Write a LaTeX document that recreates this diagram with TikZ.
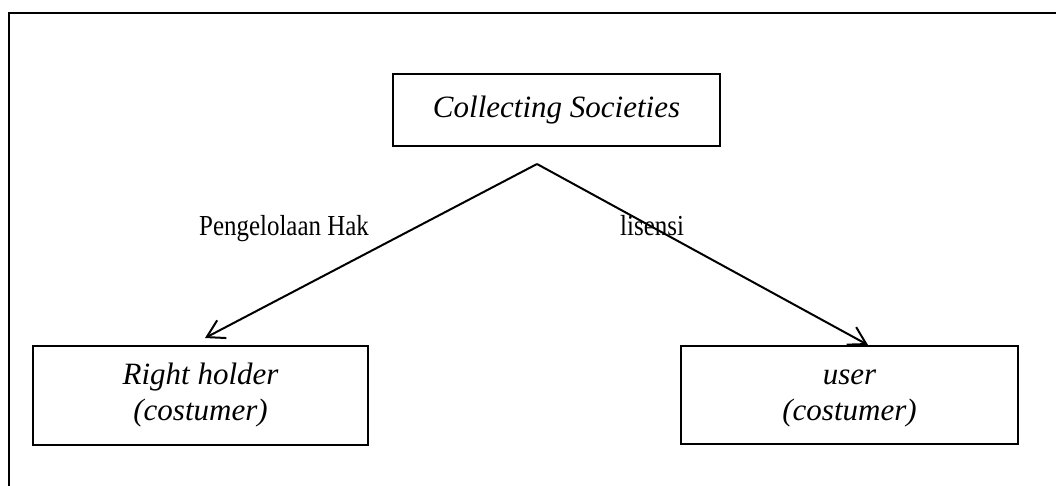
\documentclass[tikz,border=0pt]{standalone}
\usepackage{fontspec}
\setmainfont{Liberation Serif}
\newfontfamily\labelfont[FakeStretch=0.86]{Liberation Serif}
\usetikzlibrary{arrows.meta}
\tikzset{
  boxnode/.style={draw, line width=1.5pt, rectangle, inner sep=0pt, align=center,
    font=\fontsize{31}{36}\selectfont\itshape},
  lbl/.style={anchor=base west, inner sep=0pt, font=\labelfont\fontsize{29}{34}\selectfont},
  conn/.style={line width=2pt, -{Straight Barb[length=17pt,width=20pt]}},
  frame/.style={line width=2.5pt}
}
\begin{document}
\begin{tikzpicture}[x=1pt,y=-1pt]
\useasboundingbox (0,0) rectangle (1056,486);
\draw[frame] (9,490) -- (9,13) -- (1060,13);
\node[boxnode, minimum width=327pt, minimum height=72pt] (cs) at (556.5,110) {\strut Collecting Societies};
\node[boxnode, minimum width=335pt, minimum height=99pt] (rh) at (200.5,395.5) {\strut Right holder\\\strut (costumer)};
\node[boxnode, minimum width=337pt, minimum height=98pt] (us) at (849.5,395) {\strut user\\\strut (costumer)};
\coordinate (apex) at (537,164);
\coordinate (tipL) at (205,338);
\coordinate (tipR) at (868,345);
\draw[conn] (apex) -- (tipL);
\draw[conn] (apex) -- (tipR);
\node[lbl] (l1) at (199,236) {Pengelolaan Hak};
\node[lbl] (l2) at (620,236) {lisensi};
\end{tikzpicture}
\end{document}
